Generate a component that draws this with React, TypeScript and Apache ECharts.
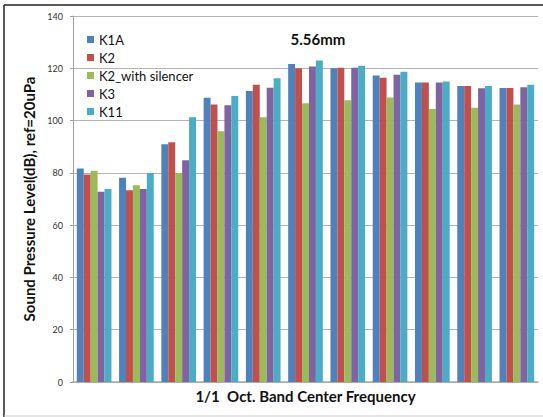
import React, { useEffect, useRef } from "react";
import * as echarts from "echarts";

const categories = ["1", "2", "3", "4", "5", "6", "7", "8", "9", "10", "11"];
const seriesNames = ["K1A", "K2", "K2_with silencer", "K3", "K11"];
const k1a = [81.7, 78.1, 90.9, 108.7, 111.3, 121.6, 120.0, 117.2, 114.6, 113.2, 112.5];
const k2 = [79.4, 73.3, 91.7, 106.1, 113.7, 120.0, 120.2, 116.4, 114.6, 113.2, 112.5];
const k2Silencer = [80.8, 75.3, 79.9, 95.9, 101.3, 106.6, 107.8, 108.8, 104.4, 104.9, 106.1];
const k3 = [72.8, 73.8, 84.8, 105.9, 112.6, 120.7, 120.2, 117.5, 114.6, 112.4, 112.7];
const k11 = [73.8, 79.9, 101.3, 109.4, 116.2, 123.0, 121.0, 118.7, 114.9, 113.2, 113.7];
const colors = ["#4F81BD", "#C0504D", "#9BBB59", "#8064A2", "#4BACC6"];
const yTicks = { min: 0, max: 140, interval: 20 };

export default function App() {
  const ref = useRef<HTMLDivElement>(null);
  useEffect(() => {
    document.body.style.margin = "0";
    if (!ref.current) return;
    const chart = echarts.init(ref.current, null, { renderer: "svg" });
    const data = [k1a, k2, k2Silencer, k3, k11];
    const font = "Lato, 'Open Sans', sans-serif";
    chart.setOption({
      animation: false,
      backgroundColor: "#ffffff",
      title: {
        text: "5.56mm",
        left: 313,
        top: 26,
        textAlign: "center",
        textStyle: { fontFamily: font, fontSize: 15, fontWeight: "bold", color: "#111" },
      },
      legend: {
        orient: "vertical",
        left: 82,
        top: 28,
        itemWidth: 7,
        itemHeight: 7,
        itemGap: 5,
        icon: "rect",
        data: seriesNames,
        textStyle: { fontFamily: font, fontSize: 13, color: "#111" },
      },
      grid: { left: 73, right: 5, top: 16, bottom: 35, containLabel: false },
      xAxis: {
        type: "category",
        data: categories,
        name: "1/1  Oct. Band Center Frequency",
        nameLocation: "middle",
        nameGap: 6,
        nameTextStyle: { fontFamily: font, fontSize: 15, fontWeight: "bold", color: "#111" },
        axisLabel: { show: false },
        axisTick: { show: false },
        axisLine: { lineStyle: { color: "#a8a8a8", width: 1.5 } },
      },
      yAxis: {
        type: "value",
        min: yTicks.min,
        max: yTicks.max,
        interval: yTicks.interval,
        name: "Sound Pressure Level(dB), ref=20uPa",
        nameLocation: "middle",
        nameGap: 37,
        nameTextStyle: { fontFamily: font, fontSize: 15, fontWeight: "bold", color: "#111" },
        axisLabel: { fontFamily: font, fontSize: 9, color: "#333", margin: 10 },
        axisTick: { show: true, length: 3, inside: false, lineStyle: { color: "#a0a0a0" } },
        axisLine: { show: true, lineStyle: { color: "#a0a0a0" } },
        splitLine: { lineStyle: { color: "#b4b4b4" } },
      },
      series: seriesNames.map((name, i) => ({
        name,
        type: "bar",
        data: data[i],
        barGap: "0%",
        barCategoryGap: "18%",
        itemStyle: { color: colors[i] },
      })),
      graphic: [
        { type: "line", shape: { x1: 4, y1: 5, x2: 543, y2: 5 }, style: { stroke: "#222", lineWidth: 1.5 } },
        { type: "line", shape: { x1: 4, y1: 5, x2: 4, y2: 417 }, style: { stroke: "#222", lineWidth: 1.5 } },
        { type: "line", shape: { x1: 4, y1: 416, x2: 543, y2: 416 }, style: { stroke: "#cccccc", lineWidth: 1 } },
      ],
    });
    return () => chart.dispose();
  }, []);
  return <div ref={ref} style={{ width: 543, height: 417 }} />;
}
